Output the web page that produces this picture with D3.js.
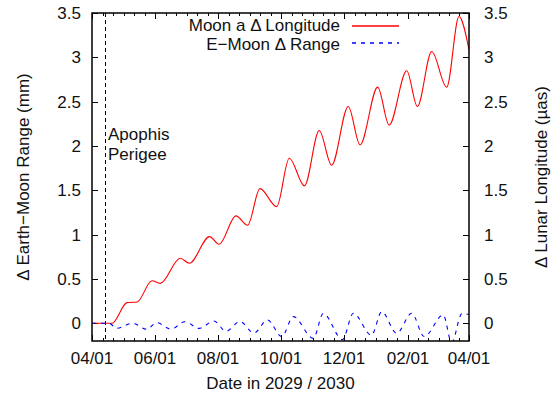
<!DOCTYPE html>
<html>
<head>
<meta charset="utf-8">
<script src="https://cdn.jsdelivr.net/npm/d3@7"></script>
<style>
  html, body { margin: 0; padding: 0; background: #fff; }
  svg { display: block; font-family: "Liberation Sans", Arial, sans-serif; }
</style>
</head>
<body>
<svg id="chart" width="555" height="398"></svg>
<script>
// ---- data (day offsets from 2029-04-01, values) ----
const startDate = "2029-04-01";
const endDate = "2030-04-01";
const perigeeDay = 12.9;

const lonDays = [0, 19.4, 33.9, 43.6, 58.1, 66.1, 85.5, 94.2, 113.8, 123, 139.4, 150.7, 162.6, 178.8, 191, 205.7, 220, 232, 248.1, 259.5, 276.6, 287.7, 304.7, 315, 328.9, 343.4, 355.3, 365];
const lonValues = [0, 0, 0.233, 0.24, 0.48, 0.45, 0.733, 0.677, 0.977, 0.891, 1.211, 1.106, 1.519, 1.316, 1.862, 1.55, 2.174, 1.783, 2.445, 2.012, 2.664, 2.235, 2.848, 2.445, 3.066, 2.664, 3.46, 3.085];

const rangeDays = [0, 16.5, 23.9, 39.2, 53, 62.6, 76.5, 90, 103.6, 118.1, 129.7, 143.3, 156.8, 169.9, 183.7, 194.9, 214.3, 223.9, 242.5, 253, 270.6, 280.5, 295, 309.5, 321.6, 340.1, 348.2, 358.2, 365];
const rangeValues = [0, 0, -0.056, 0.0, -0.068, 0.007, -0.066, 0.018, -0.058, 0.025, -0.09, 0.02, -0.11, 0.037, -0.15, 0.075, -0.17, 0.11, -0.185, 0.113, -0.135, 0.131, -0.113, 0.113, -0.15, 0.094, -0.22, 0.11, 0.1];

const xTickDates = ["2029-04-01", "2029-06-01", "2029-08-01", "2029-10-01", "2029-12-01", "2030-02-01", "2030-04-01"];
const xTickLabels = ["04/01", "06/01", "08/01", "10/01", "12/01", "02/01", "04/01"];
const yTicks = [0, 0.5, 1, 1.5, 2, 2.5, 3, 3.5];
const yTickLabels = ["0", "0.5", "1", "1.5", "2", "2.5", "3", "3.5"];

const seriesNames = ["Moon a \u0394 Longitude", "E\u2212Moon \u0394 Range"];
const xTitle = "Date in 2029 / 2030";
const yTitle = "\u0394 Earth\u2212Moon Range (mm)";
const y2Title = "\u0394 Lunar Longitude (\u00b5as)";
const annotation = ["Apophis", "Perigee"];

// ---- layout ----
const L = 92, R = 469, T = 13, B = 341;
const DAY = 86400000;
const parse = s => new Date(s + "T00:00:00Z");
const t0 = parse(startDate);
const dayToDate = d => new Date(t0.getTime() + d * DAY);

const x = d3.scaleUtc().domain([parse(startDate), parse(endDate)]).range([L, R]);
const y = d3.scaleLinear().domain([-0.2, 3.5]).range([B, T]);

const svg = d3.select("#chart");
const fs = 17;
const txt = "#111";

svg.append("defs").append("clipPath").attr("id", "clip")
  .append("rect").attr("x", L).attr("y", T).attr("width", R - L).attr("height", B - T);

// minor x ticks: 6 subdivisions per major interval
const majors = xTickDates.map(parse);
const minors = [];
for (let i = 0; i < majors.length - 1; i++) {
  const a = majors[i].getTime(), b = majors[i + 1].getTime();
  for (let k = 1; k < 6; k++) minors.push(new Date(a + (b - a) * k / 6));
}

const tickG = svg.append("g").attr("stroke", "#000").attr("stroke-width", 1);
majors.forEach(d => {
  const px = Math.round(x(d)) + 0.5;
  tickG.append("line").attr("x1", px).attr("x2", px).attr("y1", B).attr("y2", B - 6);
  tickG.append("line").attr("x1", px).attr("x2", px).attr("y1", T).attr("y2", T + 6);
});
minors.forEach(d => {
  const px = Math.round(x(d)) + 0.5;
  tickG.append("line").attr("x1", px).attr("x2", px).attr("y1", B).attr("y2", B - 3);
  tickG.append("line").attr("x1", px).attr("x2", px).attr("y1", T).attr("y2", T + 3);
});
yTicks.forEach(v => {
  const py = Math.round(y(v)) + 0.5;
  tickG.append("line").attr("x1", L).attr("x2", L + 6).attr("y1", py).attr("y2", py);
  tickG.append("line").attr("x1", R).attr("x2", R - 6).attr("y1", py).attr("y2", py);
});

// tick labels
majors.forEach((d, i) => {
  svg.append("text").attr("x", x(d)).attr("y", 364).attr("text-anchor", "middle")
    .attr("font-size", fs).attr("fill", txt).text(xTickLabels[i]);
});
yTicks.forEach((v, i) => {
  svg.append("text").attr("x", 81).attr("y", y(v)).attr("dy", "0.35em").attr("text-anchor", "end")
    .attr("font-size", fs).attr("fill", txt).text(yTickLabels[i]);
  svg.append("text").attr("x", 484).attr("y", y(v)).attr("dy", "0.35em").attr("text-anchor", "start")
    .attr("font-size", fs).attr("fill", txt).text(yTickLabels[i]);
});

// axis titles
svg.append("text").attr("x", (L + R) / 2).attr("y", 389).attr("text-anchor", "middle")
  .attr("font-size", fs).attr("fill", txt).text(xTitle);
svg.append("text").attr("transform", `translate(29,${(T + B) / 2}) rotate(-90)`)
  .attr("text-anchor", "middle").attr("font-size", fs).attr("fill", txt).text(yTitle);
svg.append("text").attr("transform", `translate(547,${(T + B) / 2}) rotate(-90)`)
  .attr("text-anchor", "middle").attr("font-size", fs).attr("fill", txt).text(y2Title);

// perigee line
const pX = Math.round(x(dayToDate(perigeeDay))) + 0.5;
svg.append("line").attr("x1", pX).attr("x2", pX).attr("y1", T).attr("y2", B)
  .attr("stroke", "#000").attr("stroke-width", 1).attr("stroke-dasharray", "4,3");
annotation.forEach((t, i) => {
  svg.append("text").attr("x", 108).attr("y", 140 + i * 19.5)
    .attr("font-size", fs).attr("fill", txt).text(t);
});

// curves
const line = d3.line().x(d => x(dayToDate(d[0]))).y(d => y(d[1])).curve(d3.curveMonotoneX);
const plot = svg.append("g").attr("clip-path", "url(#clip)");
plot.append("path").datum(lonDays.map((d, i) => [d, lonValues[i]]))
  .attr("d", line).attr("fill", "none").attr("stroke", "#ff0000").attr("stroke-width", 1.1);
plot.append("path").datum(rangeDays.map((d, i) => [d, rangeValues[i]]))
  .attr("d", line).attr("fill", "none").attr("stroke", "#0000ff").attr("stroke-width", 1.1)
  .attr("stroke-dasharray", "4,5");

// legend
const legLineY = [26, 43];
const legTextY = [25, 44.5];
const legColors = ["#ff0000", "#0000ff"];
const legDash = ["none", "4,5"];
seriesNames.forEach((n, i) => {
  svg.append("text").attr("x", 340).attr("y", legTextY[i]).attr("dy", "0.35em").attr("text-anchor", "end")
    .attr("font-size", fs).attr("fill", txt).text(n);
  svg.append("line").attr("x1", 352).attr("x2", 399).attr("y1", legLineY[i]).attr("y2", legLineY[i])
    .attr("stroke", legColors[i]).attr("stroke-width", 1.3)
    .attr("stroke-dasharray", legDash[i]);
});

// frame
svg.append("rect").attr("x", L).attr("y", T).attr("width", R - L).attr("height", B - T)
  .attr("fill", "none").attr("stroke", "#000").attr("stroke-width", 1.5);
</script>
</body>
</html>
